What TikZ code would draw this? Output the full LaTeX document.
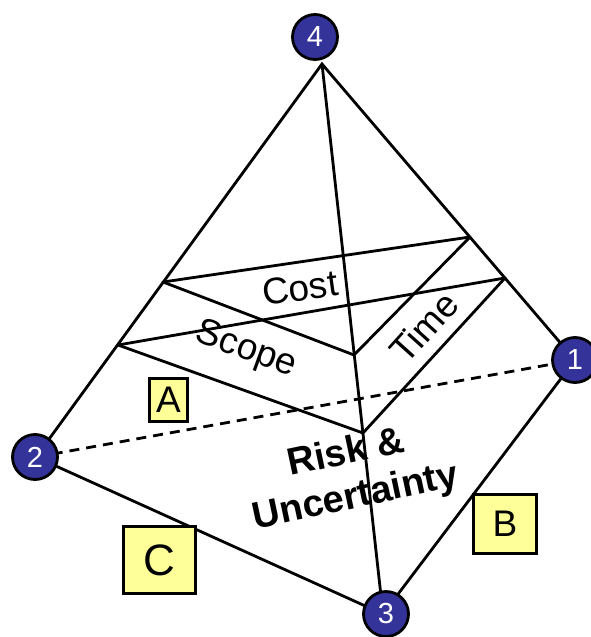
\documentclass[tikz,border=0pt]{standalone}
\usepackage{fontspec}
\setmainfont{Liberation Sans}
\usetikzlibrary{calc}
\definecolor{vertexblue}{HTML}{333399}
\definecolor{tagyellow}{HTML}{FFFF99}

\begin{document}
\begin{tikzpicture}[
    x=1pt, y=-1pt,
    line width=2.8pt,
    edge/.style={draw=black, line width=2.8pt, line cap=round},
    hidden/.style={draw=black, line width=2.8pt, dash pattern=on 10pt off 7pt},
    vertex/.style={circle, draw=black, line width=2.8pt, fill=vertexblue, text=white, minimum size=45pt, inner sep=0pt, font=\fontsize{29}{29}\selectfont},
    tag/.style={draw=black, line width=3pt, fill=tagyellow, inner sep=0pt, align=center},
    layer/.style={font=\fontsize{37}{40}\selectfont, inner sep=0pt}
]
    \useasboundingbox (0,0) rectangle (590,637);

    % 1. Pyramid corners
    \coordinate (apex) at (322,64);
    \coordinate (left) at (36,457);
    \coordinate (front) at (383,614);
    \coordinate (right) at (575,360);

    % 2. Points where the layers cut the edges
    \coordinate (costL) at (163,282);
    \coordinate (costR) at (470,237);
    \coordinate (costM) at (354,355);
    \coordinate (scopeL) at (118,345);
    \coordinate (scopeR) at (505,278);
    \coordinate (scopeM) at (363,433);

    % 3. Outer edges
    \draw[edge] (apex) -- (left) -- (front) -- (right) -- cycle;
    \draw[edge] (apex) -- (front);
    \draw[hidden] (left) -- (right);

    % 4. Layers
    \draw[edge] (costL) -- (costR);
    \draw[edge] (costL) -- (costM) -- (costR);
    \draw[edge] (scopeL) -- (scopeR);
    \draw[edge] (scopeL) -- (scopeM) -- (scopeR);

    % Labels on the faces
    \node[layer, rotate=8] (cost) at (300,288) {Cost};
    \node[layer, rotate=-20] (scope) at (246,350) {Scope};
    \node[layer, rotate=48] (time) at (424,327) {Time};
    \node[layer, rotate=12, align=center, font=\fontsize{38}{45}\selectfont\bfseries] (risk) at (351,476) {Risk \&\\Uncertainty};

    % Letter tags
    \node[tag, minimum width=38pt, minimum height=43pt, font=\fontsize{37}{37}\selectfont] (tagA) at (168.5,400) {A};
    \node[tag, minimum width=63pt, minimum height=59pt, font=\fontsize{37}{37}\selectfont] (tagB) at (505,524) {B};
    \node[tag, minimum width=72pt, minimum height=67pt, font=\fontsize{44}{44}\selectfont] (tagC) at (159.5,560) {C};

    % Numbered corners
    \node[vertex] (v4) at (315,37) {4};
    \node[vertex] (v2) at (35,457) {2};
    \node[vertex] (v3) at (386,614) {3};
    \node[vertex] (v1) at (575,360) {1};

\end{tikzpicture}
\end{document}
